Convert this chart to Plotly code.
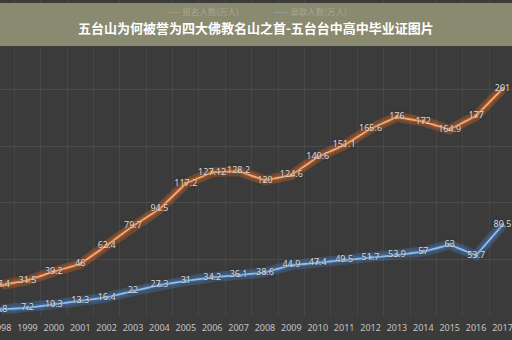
import plotly.graph_objects as go

years = list(range(1998, 2018))
applicants = [27.4, 31.5, 39.2, 46, 62.4, 79.7, 94.5, 117.2, 127.12, 128.2,
              120, 124.6, 140.6, 151.1, 165.6, 176, 172, 164.9, 177, 201]
admitted = [5.8, 7.2, 10.3, 13.3, 16.4, 22, 27.3, 31, 34.2, 36.1,
            38.6, 44.9, 47.4, 49.5, 51.7, 53.9, 57, 63, 53.7, 80.5]
series_names = ["报名人数(万人)", "录取人数(万人)"]
title_text = "五台山为何被誉为四大佛教名山之首-五台台中高中毕业证图片"

fig = go.Figure()

def add_series(vals, glow, core, name):
    fig.add_trace(go.Scatter(x=years, y=vals, mode="lines", line=dict(color=glow, width=10),
                             hoverinfo="skip", showlegend=False))
    fig.add_trace(go.Scatter(x=years, y=vals, mode="lines", line=dict(color=glow, width=5),
                             hoverinfo="skip", showlegend=False))
    fig.add_trace(go.Scatter(
        x=years, y=vals, mode="lines+markers+text", name=name,
        line=dict(color=core, width=1.8),
        marker=dict(size=4, color=core),
        text=[("%g" % v) for v in vals], textposition="middle center",
        textfont=dict(family="Noto Sans, DejaVu Sans", size=9, color="#d9d9d9",
                      shadow="0px 0px 3px #2a2a2a"),
        showlegend=False))

add_series(applicants, "rgba(230,105,30,0.32)", "#f4ad80", series_names[0])
add_series(admitted, "rgba(70,130,205,0.32)", "#92c0ea", series_names[1])

fig.update_layout(
    width=512, height=340,
    margin=dict(l=0, r=0, t=0, b=24, autoexpand=False),
    paper_bgcolor="#3b3b3b", plot_bgcolor="#3b3b3b",
    showlegend=False,
    xaxis=dict(range=[1997.96, 2017.36], tickmode="array", tickvals=years,
               ticktext=[str(y) for y in years], showgrid=False, zeroline=False,
               ticklabeloverflow="allow", automargin=False,
               ticks="outside", ticklen=3, tickcolor="rgba(0,0,0,0)",
               tickfont=dict(family="Noto Sans, DejaVu Sans", size=9, color="#c4c4c4"),
               minor=dict(tickmode="linear", tick0=1997.5, dtick=1, showgrid=True,
                          gridcolor="rgba(255,255,255,0.06)", ticklen=0)),
    yaxis=dict(range=[0, 279.5], tickmode="linear", tick0=0, dtick=50,
               showticklabels=False, showgrid=True, automargin=False,
               gridcolor="rgba(255,255,255,0.08)", zeroline=False),
)

fig.add_shape(type="rect", xref="paper", yref="paper", x0=0, x1=1,
              y0=1 - 46 / 316, y1=1 - 3 / 316, fillcolor="#8a8a70",
              line=dict(width=0), layer="above")

fig.add_annotation(xref="paper", yref="paper", x=0.5, y=1 - 27.5 / 316, yanchor="middle",
                   text="<b>%s</b>" % title_text, showarrow=False,
                   font=dict(family="Noto Sans CJK SC", size=13, color="#ffffff"))
fig.add_annotation(xref="paper", yref="paper", x=202 / 512, y=1 - 11.5 / 316, yanchor="middle",
                   text="<span style='color:#c89a6a'>——</span> " + series_names[0],
                   showarrow=False,
                   font=dict(family="Noto Sans CJK SC", size=8.5, color="#a8a890"))
fig.add_annotation(xref="paper", yref="paper", x=310 / 512, y=1 - 11.5 / 316, yanchor="middle",
                   text="<span style='color:#9db0c0'>——</span> " + series_names[1],
                   showarrow=False,
                   font=dict(family="Noto Sans CJK SC", size=8.5, color="#a8a890"))

fig.write_html("out.html")
